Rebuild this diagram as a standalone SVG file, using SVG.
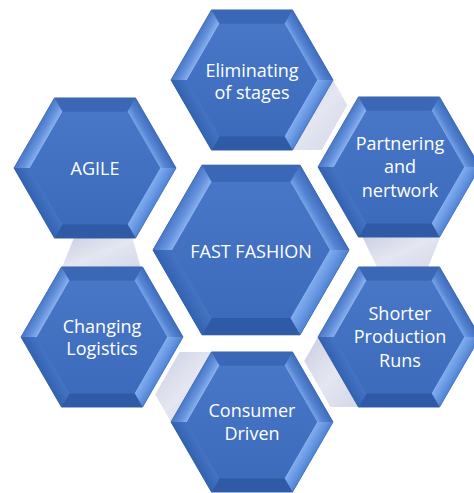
<svg xmlns="http://www.w3.org/2000/svg" xmlns:xlink="http://www.w3.org/1999/xlink" width="474" height="493" viewBox="0 0 474 493">
<defs>
<style>
.lbl{font-family:"Open Sans","Liberation Sans",sans-serif;font-size:18px;fill:#ffffff;text-anchor:middle}
.con{stroke:none}
</style>
<linearGradient id="gUL" gradientUnits="userSpaceOnUse" x1="-60.75" y1="-35.05" x2="-48.75" y2="-28.15">
<stop offset="0" stop-color="#4a78c7"/><stop offset="0.55" stop-color="#6492dc"/><stop offset="1" stop-color="#8cb2ee"/>
</linearGradient>
<linearGradient id="gUR" gradientUnits="userSpaceOnUse" x1="60.75" y1="-35.05" x2="48.75" y2="-28.15">
<stop offset="0" stop-color="#3f6dbd"/><stop offset="0.6" stop-color="#5584d2"/><stop offset="1" stop-color="#78a4e8"/>
</linearGradient>
<linearGradient id="gLR" gradientUnits="userSpaceOnUse" x1="60.75" y1="35.05" x2="48.75" y2="28.15">
<stop offset="0" stop-color="#4f82d2"/><stop offset="0.5" stop-color="#6a9ae4"/><stop offset="1" stop-color="#83aeee"/>
</linearGradient>
<linearGradient id="gLL" gradientUnits="userSpaceOnUse" x1="-60.75" y1="35.05" x2="-48.75" y2="28.15">
<stop offset="0" stop-color="#3362b1"/><stop offset="1" stop-color="#4574c4"/>
</linearGradient>
<linearGradient id="gFace" x1="0" y1="0" x2="0" y2="1">
<stop offset="0" stop-color="#4877c7"/><stop offset="1" stop-color="#3d6bbc"/>
</linearGradient>
<linearGradient id="gCon" x1="0" y1="0" x2="1" y2="1">
<stop offset="0" stop-color="#c9cde1"/><stop offset="0.5" stop-color="#e4e6f1"/><stop offset="1" stop-color="#d3d6e7"/>
</linearGradient>
<g id="hex">
<polygon points="-81,0 -40.5,-70.1 40.5,-70.1 81,0 40.5,70.1 -40.5,70.1" fill="#3c69b8" stroke="#2f5aa2" stroke-width="0.8"/>
<polygon points="-40.5,-70.1 40.5,-70.1 32.5,-56.3 -32.5,-56.3" fill="#3a67b6"/>
<polygon points="40.5,-70.1 81,0 65,0 32.5,-56.3" fill="url(#gUR)"/>
<polygon points="81,0 40.5,70.1 32.5,56.3 65,0" fill="url(#gLR)"/>
<polygon points="40.5,70.1 -40.5,70.1 -32.5,56.3 32.5,56.3" fill="#2f5ba6"/>
<polygon points="-40.5,70.1 -81,0 -65,0 -32.5,56.3" fill="url(#gLL)"/>
<polygon points="-81,0 -40.5,-70.1 -32.5,-56.3 -65,0" fill="url(#gUL)"/>
<polygon points="-65,0 -32.5,-56.3 32.5,-56.3 65,0 32.5,56.3 -32.5,56.3" fill="url(#gFace)"/>
</g>
</defs>
<rect width="474" height="493" fill="#ffffff"/>
<g id="connectors">
<polygon class="con" fill="url(#gCon)" points="320,80 333,80 347.4,105.1 321.7,150 285,150"/>
<polygon class="con" fill="url(#gCon)" points="361,234 441.6,234 426.8,270 378.4,270"/>
<polygon class="con" fill="url(#gCon)" points="304.2,361.1 318,337 328,337 364,400 358,407 330.4,407"/>
<polygon class="con" fill="url(#gCon)" points="179.5,352 215,352 175,422 171,422 155.2,394.4"/>
<polygon class="con" fill="url(#gCon)" points="74.6,236 131.9,236 141.4,270 61,270"/>
</g>
<g id="node-eliminating">
<use xlink:href="#hex" href="#hex" transform="translate(252,80)"/>
<text class="lbl" x="252" y="77">Eliminating</text>
<text class="lbl" x="252" y="99">of stages</text>
</g>
<g id="node-agile">
<use xlink:href="#hex" href="#hex" transform="translate(95,168)"/>
<text class="lbl" x="95" y="175">AGILE</text>
</g>
<g id="node-partnering">
<use xlink:href="#hex" href="#hex" transform="translate(399,167)"/>
<text class="lbl" x="400" y="150">Partnering</text>
<text class="lbl" x="400" y="173">and</text>
<text class="lbl" x="400" y="197">nertwork</text>
</g>
<g id="node-fast-fashion">
<use xlink:href="#hex" href="#hex" transform="translate(251,250) scale(1.21)"/>
<text class="lbl" x="251" y="258">FAST FASHION</text>
</g>
<g id="node-changing">
<use xlink:href="#hex" href="#hex" transform="translate(102,337)"/>
<text class="lbl" x="102" y="333">Changing</text>
<text class="lbl" x="102" y="355">Logistics</text>
</g>
<g id="node-shorter">
<use xlink:href="#hex" href="#hex" transform="translate(399,337)"/>
<text class="lbl" x="400" y="320">Shorter</text>
<text class="lbl" x="400" y="343">Production</text>
<text class="lbl" x="400" y="367">Runs</text>
</g>
<g id="node-consumer">
<use xlink:href="#hex" href="#hex" transform="translate(252,422)"/>
<text class="lbl" x="252" y="417">Consumer</text>
<text class="lbl" x="252" y="440">Driven</text>
</g>
</svg>
